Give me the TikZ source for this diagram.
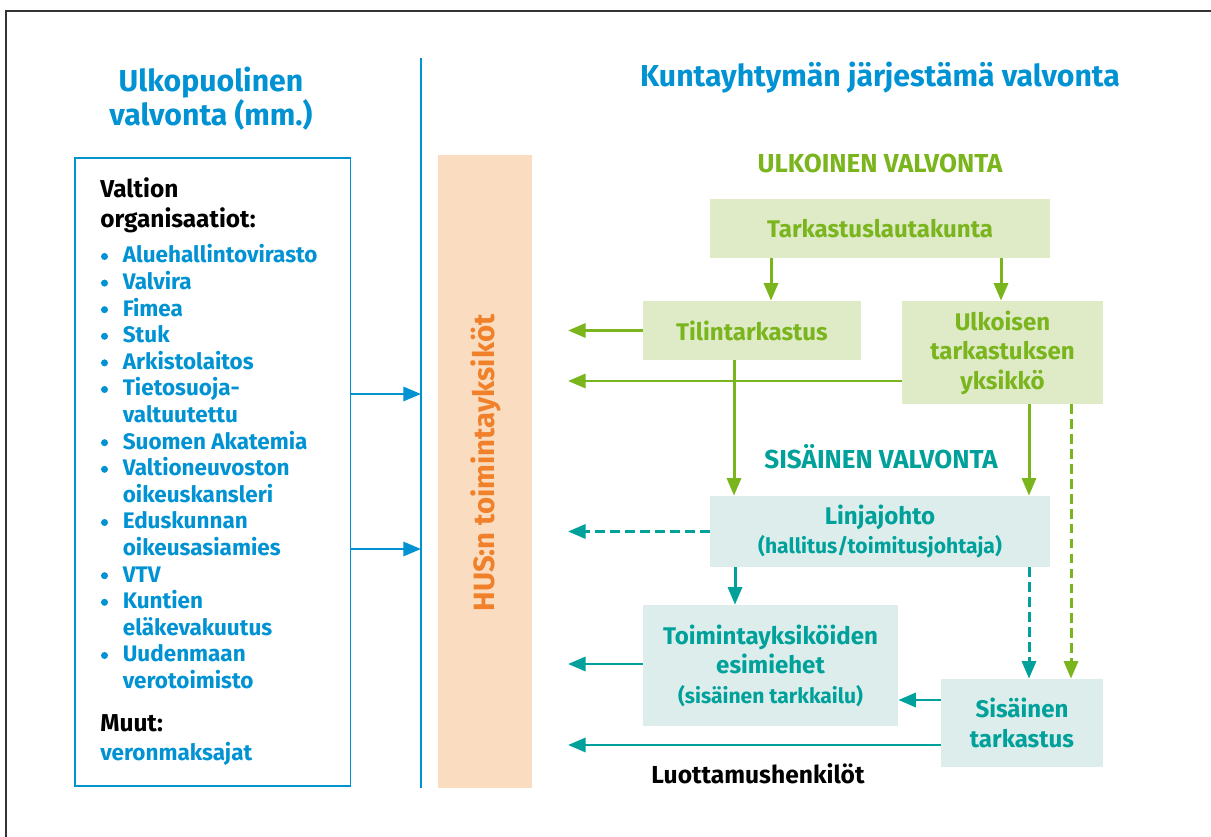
\documentclass[tikz,border=0pt]{standalone}
\usepackage{fontspec}
\setmainfont{Fira Sans}
\usetikzlibrary{arrows.meta}
\definecolor{husblue}{RGB}{0,146,210}
\definecolor{husgreen}{RGB}{122,181,29}
\definecolor{husteal}{RGB}{0,161,154}
\definecolor{husorange}{RGB}{240,129,42}
\definecolor{orangefill}{RGB}{250,220,192}
\definecolor{greenfill}{RGB}{223,234,199}
\definecolor{tealfill}{RGB}{220,237,236}
\newcommand{\subline}{\fontsize{12}{16.5}\selectfont}

\begin{document}
\begin{tikzpicture}[x=0.02cm, y=-0.02cm,
  title/.style={font=\fontsize{17.2}{19.5}\selectfont\bfseries, text=husblue, align=center},
  heading/.style={anchor=base, font=\fontsize{14.8}{16}\selectfont\bfseries},
  item/.style={anchor=base west, inner sep=0pt, font=\fontsize{12.8}{15}\selectfont\bfseries, text=husblue},
  listhead/.style={item, text=black, font=\fontsize{13.9}{15}\selectfont\bfseries},
  greenbox/.style={fill=greenfill, text=husgreen, align=center, inner sep=0pt,
    font=\fontsize{13.7}{16.8}\selectfont\bfseries},
  tealbox/.style={fill=tealfill, text=husteal, align=center, inner sep=0pt,
    font=\fontsize{13.7}{16.8}\selectfont\bfseries},
  tip/.style={-{Triangle[length=10pt,width=8pt]}},
  greenarrow/.style={tip, draw=husgreen, line width=1.7pt},
  tealarrow/.style={tip, draw=husteal, line width=1.7pt},
  bluearrow/.style={tip, draw=husblue, line width=1.5pt},
  dashline/.style={dash pattern=on 5.5pt off 3pt}
]
\useasboundingbox (0,0) rectangle (1211,837);
\clip (0,0) rectangle (1211,837);

% frame
\draw[black!80, line width=0.8pt] (6,11) rectangle (1240,870);

% left column
\node[title] (ulkotitle) at (211,99) {Ulkopuolinen\\valvonta (mm.)};
\node[draw=husblue, line width=0.8pt, minimum width=5.51cm, minimum height=12.56cm] (valtio) at (212.75,472) {};

\node[listhead] (valtion) at (100,198) {Valtion};
\node[listhead] (organisaatiot) at (100,228) {organisaatiot:};
\foreach \k/\txt/\dot in {0/Aluehallintovirasto/1, 1/Valvira/1, 2/Fimea/1, 3/Stuk/1,
  4/Arkistolaitos/1, 5/Tietosuoja-/1, 6/valtuutettu/0, 7/Suomen Akatemia/1,
  8/Valtioneuvoston/1, 9/oikeuskansleri/0, 10/Eduskunnan/1, 11/oikeusasiamies/0,
  12/VTV/1, 13/Kuntien/1, 14/eläkevakuutus/0, 15/Uudenmaan/1, 16/verotoimisto/0}
{
  \node[item] (item\k) at (122.5,263+26.6*\k) {\txt};
  \ifnum\dot=1 \fill[husblue] (104.5,256.5+26.6*\k) circle[radius=2pt]; \fi
}
\node[listhead] (muut) at (100,731) {Muut:};
\node[item] (veronmaksajat) at (100,761) {veronmaksajat};

% dividing line and HUS bar
\coordinate (linetop) at (421,58);
\coordinate (linebottom) at (421,788);
\draw[husblue, line width=1.3pt] (linetop) -- (linebottom);
\coordinate (in1) at (421,394);
\coordinate (in2) at (421,549);
\draw[bluearrow] (valtio.east |- in1) -- (in1);
\draw[bluearrow] (valtio.east |- in2) -- (in2);

\node[fill=orangefill, minimum width=1.88cm, minimum height=12.66cm] (hus) at (485,471.5) {};
\node[rotate=90, text=husorange, font=\fontsize{16.7}{18}\selectfont\bfseries] (hustext) at (486,463) {HUS:n toimintayksiköt};

% right column
\node[title, anchor=base] (kuntatitle) at (880,87) {Kuntayhtymän järjestämä valvonta};
\node[heading, text=husgreen] (ulkoinen) at (880,173) {ULKOINEN VALVONTA};
\node[heading, text=husteal] (sisainen) at (881,469) {SISÄINEN VALVONTA};
\node[heading, font=\fontsize{14}{16}\selectfont\bfseries] (luottamus) at (758,784) {Luottamushenkilöt};

\node[greenbox, minimum width=6.8cm, minimum height=1.18cm] (tark) at (880,228.5) {Tarkastuslautakunta};
\node[greenbox, minimum width=4.36cm, minimum height=1.18cm] (tilin) at (752,330.5) {Tilintarkastus};
\node[greenbox, minimum width=4.02cm, minimum height=2.06cm] (ulk) at (1002.5,352.5) {Ulkoisen\\tarkastuksen\\yksikkö};
\node[tealbox, minimum width=6.8cm, minimum height=1.42cm] (linja) at (880,531.5) {Linjajohto\\{\subline (hallitus/toimitusjohtaja)}};
\node[tealbox, minimum width=5.1cm, minimum height=2.42cm] (toim) at (770.5,665.5) {Toimintayksiköiden\\esimiehet\\{\subline (sisäinen tarkkailu)}};
\node[tealbox, minimum width=3.24cm, minimum height=1.76cm] (sis) at (1022,723) {Sisäinen\\tarkastus};

\coordinate (edge) at (568,0);

% external control
\draw[greenarrow] (tark.south -| 771,0) -- (tilin.north -| 771,0);
\draw[greenarrow] (tark.south -| 1001,0) -- (ulk.north -| 1001,0);
\draw[greenarrow] (tilin.west) -- (tilin.west -| edge);
\draw[greenarrow] (ulk.west |- 0,381) -- (edge |- 0,381);
\draw[greenarrow] (tilin.south -| 734,0) -- (linja.north -| 734,0);
\draw[greenarrow] (ulk.south -| 1029,0) -- (linja.north -| 1029,0);
\draw[greenarrow, dashline] (ulk.south -| 1071,0) -- (sis.north -| 1071,0);

% internal control
\draw[tealarrow, dashline] (linja.west) -- (linja.west -| edge);
\draw[tealarrow] (linja.south -| 735,0) -- (toim.north -| 735,0);
\draw[tealarrow, dashline] (linja.south -| 1029,0) -- (sis.north -| 1029,0);
\draw[tealarrow] (toim.west |- 0,664) -- (edge |- 0,664);
\draw[tealarrow] (sis.west |- 0,700) -- (toim.east |- 0,700);
\draw[tealarrow] (sis.west |- 0,745) -- (edge |- 0,745);

\end{tikzpicture}
\end{document}
